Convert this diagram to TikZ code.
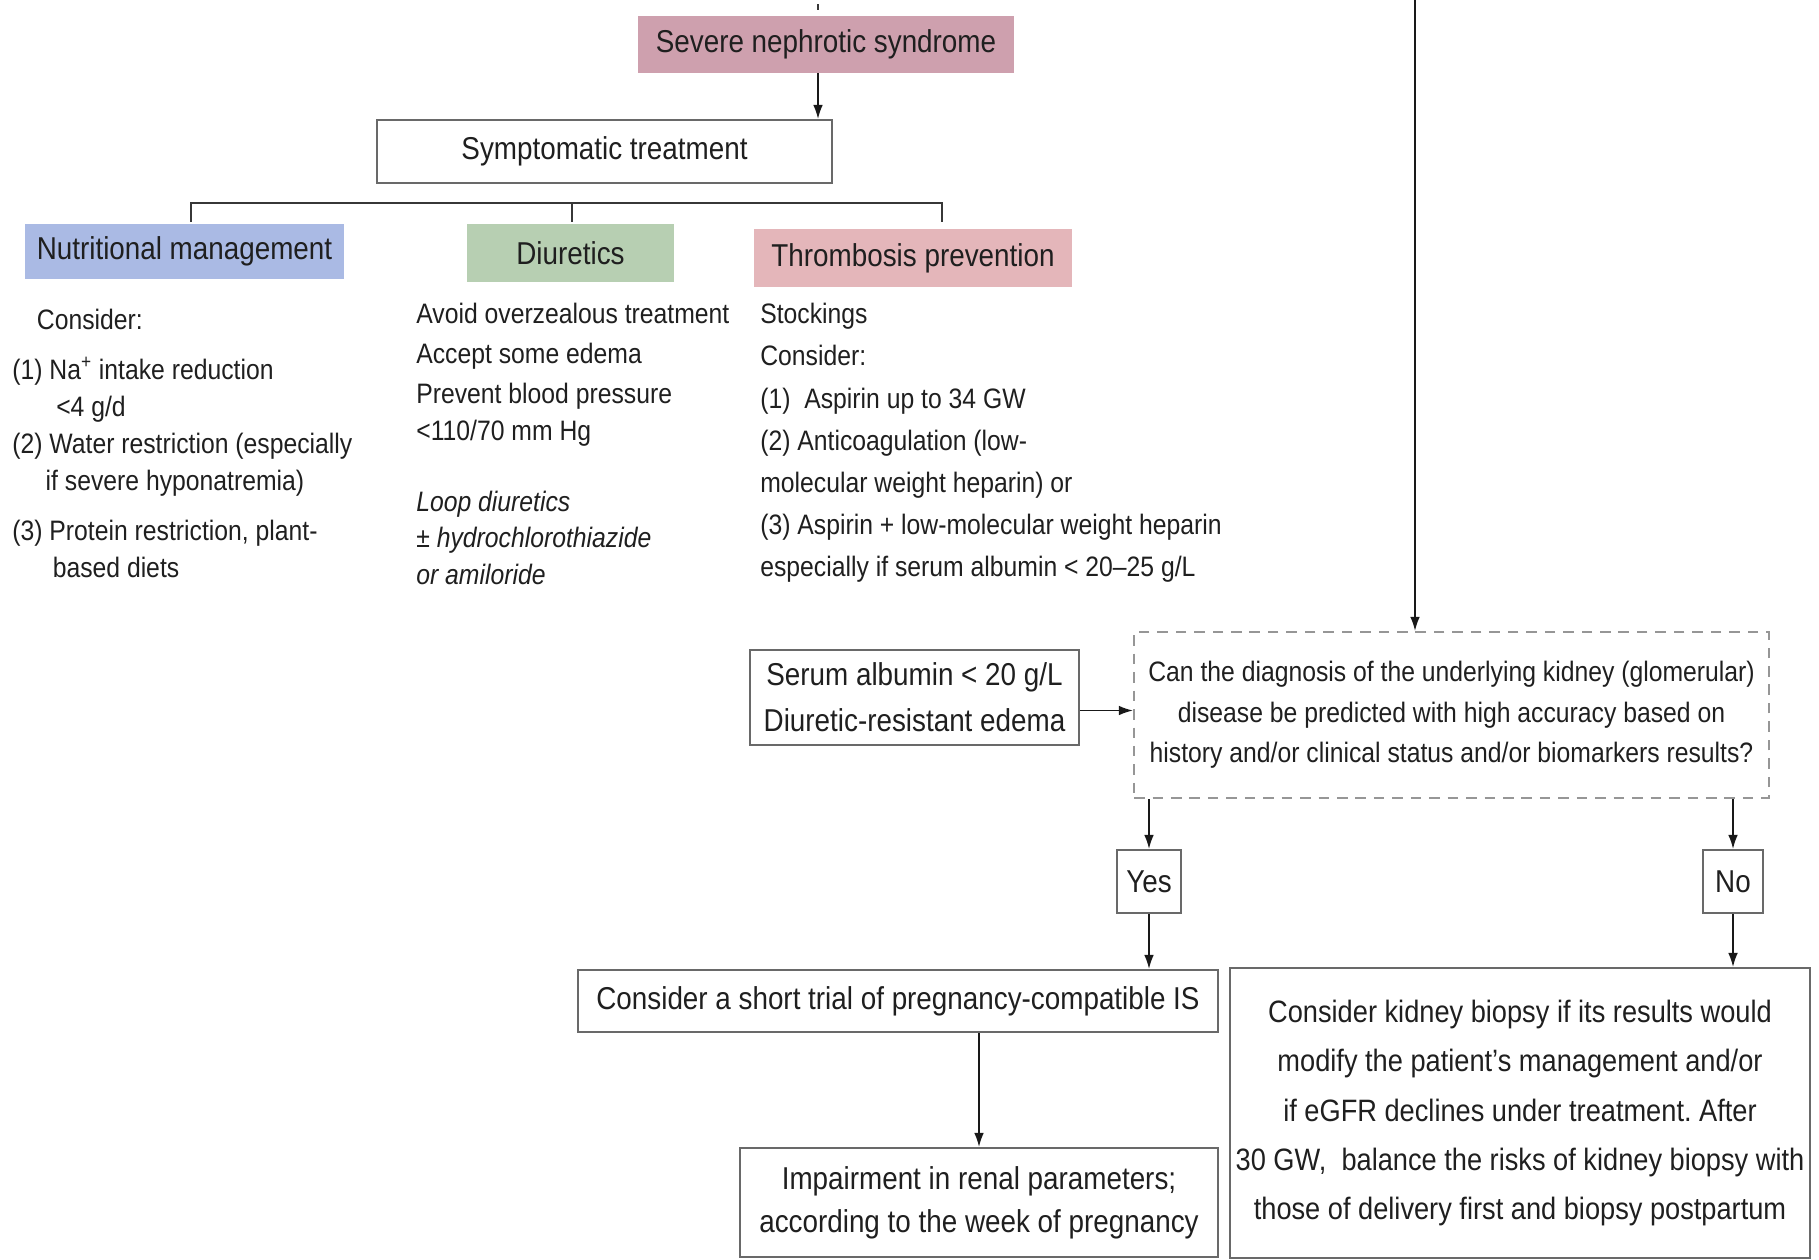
\documentclass[tikz,border=0pt]{standalone}
\usepackage{fontspec}
\setmainfont{Liberation Sans}[FakeStretch=0.88]
\usepackage{xcolor}
\usetikzlibrary{arrows.meta,calc}
\definecolor{nephmauve}{RGB}{206,160,174}
\definecolor{nutriblue}{RGB}{170,186,228}
\definecolor{diurgreen}{RGB}{183,207,178}
\definecolor{thrombpink}{RGB}{228,182,186}
\definecolor{boxgray}{RGB}{105,105,105}
\definecolor{dashgray}{RGB}{150,150,150}
\definecolor{linegray}{RGB}{55,55,55}
\frenchspacing

\begin{document}
\begin{tikzpicture}[x=0.02cm, y=-0.02cm, >={Latex[length=8pt,width=5.5pt]},
    box/.style={draw=boxgray, line width=1.2pt, inner sep=0pt, align=center,
        text=black!88, font=\fontsize{18}{26}\selectfont},
    head/.style={inner sep=0pt, text=black!88, font=\fontsize{18}{22}\selectfont},
    coltext/.style={anchor=north west, inner sep=0pt, align=left,
        text=black!88, font=\fontsize{16}{21}\selectfont},
    link/.style={->, draw=black!90, line width=0.9pt},
    bracket/.style={draw=linegray, line width=1.4pt}]
    \useasboundingbox (0,0) rectangle (1819,1259);

    % Cabecera
    \coordinate (stubtop) at (818,4);
    \coordinate (stubbot) at (818,10);
    \draw[linegray, line width=0.9pt] (stubtop) -- (stubbot);
    \node[head, fill=nephmauve, minimum width=7.52cm, minimum height=1.14cm] (severe) at (826,44.5) {Severe nephrotic syndrome};
    \node[box, minimum width=9.1cm, minimum height=1.26cm] (symp) at (604.5,151.5) {Symptomatic treatment};
    \draw[link] (severe.south -| stubtop) -- (symp.north -| stubtop);

    % Llave hacia las tres ramas
    \coordinate (brL) at (191,203);
    \coordinate (brM) at (572,203);
    \coordinate (brR) at (942,203);
    \draw[bracket] ($(brL)+(0,19)$) -- (brL) -- (brR) -- ($(brR)+(0,19)$);
    \draw[bracket] (brM) -- ($(brM)+(0,19)$);

    % Ramas
    \node[head, fill=nutriblue, minimum width=6.38cm, minimum height=1.1cm] (nutri) at (184.5,251.5) {Nutritional management};
    \node[head, fill=diurgreen, minimum width=4.14cm, minimum height=1.16cm] (diur) at (570.5,253) {Diuretics};
    \node[head, fill=thrombpink, minimum width=6.36cm, minimum height=1.16cm] (thromb) at (913,258) {Thrombosis prevention};

    \node[coltext] (nutritxt) at (12,309) {\hspace*{14pt}Consider:\\[7.5pt]
        (1) Na\textsuperscript{+} intake reduction\\
        \hspace*{25pt}<4 g/d\\
        (2) Water restriction (especially\\
        \hspace*{19pt}if severe hyponatremia)\\[7.5pt]
        (3) Protein restriction, plant-\\
        \hspace*{23pt}based diets};
    \node[coltext] (diurtxt) at (416,303) {Avoid overzealous treatment\\[1.8pt]
        Accept some edema\\[1.8pt]
        Prevent blood pressure\\
        <110/70 mm Hg\\[19pt]
        \textit{Loop diuretics}\\
        \textit{± hydrochlorothiazide}\\
        \textit{or amiloride}};
    \node[coltext, font=\fontsize{16}{24}\selectfont] (thromtxt) at (760,303) {Stockings\\
        Consider:\\
        (1)\ \ Aspirin up to 34 GW\\
        (2) Anticoagulation (low-\\
        molecular weight heparin) or\\
        (3) Aspirin + low-molecular weight heparin\\
        especially if serum albumin < 20--25 g/L};

    % Pregunta central
    \node[box, minimum width=6.58cm, minimum height=1.9cm] (serum) at (914.5,697.5) {Serum albumin < 20 g/L\\ Diuretic-resistant edema};
    \node[box, draw=dashgray, dash pattern=on 6pt off 4.5pt, line width=1.3pt, minimum width=12.7cm, minimum height=3.32cm,
        font=\fontsize{16}{23}\selectfont] (question) at (1451.5,715) {Can the diagnosis of the underlying kidney (glomerular)\\
        disease be predicted with high accuracy based on\\
        history and/or clinical status and/or biomarkers results?};
    \coordinate (fromtop) at (1415,0);
    \draw[link] (fromtop) -- (fromtop |- question.north);
    \draw[link] ([yshift=-0.26cm]serum.east) -- ([yshift=-0.26cm]serum.east -| question.west);

    % Si / No
    \node[box, minimum width=1.28cm, minimum height=1.26cm] (yes) at (1149,881.5) {Yes};
    \node[box, minimum width=1.2cm, minimum height=1.26cm] (no) at (1733,881.5) {No};
    \draw[link] (question.south -| yes) -- (yes.north);
    \draw[link] (question.south -| no) -- (no.north);

    \node[box, minimum width=12.8cm, minimum height=1.24cm] (consider) at (898,1001) {Consider a short trial of pregnancy-compatible IS};
    \node[box, minimum width=9.56cm, minimum height=2.18cm, font=\fontsize{18}{24.5}\selectfont] (impair) at (979,1202.5) {Impairment in renal parameters;\\ according to the week of pregnancy};
    \node[box, minimum width=11.6cm, minimum height=5.8cm, font=\fontsize{17.6}{28}\selectfont] (kidney) at (1520,1113) {Consider kidney biopsy if its results would\\
        modify the patient's management and/or\\
        if eGFR declines under treatment. After\\
        30 GW,\ \ balance the risks of kidney biopsy with\\
        those of delivery first and biopsy postpartum};
    \draw[link] (yes.south) -- (yes.south |- consider.north);
    \draw[link] (no.south) -- (no.south |- kidney.north);
    \draw[link] (consider.south -| impair.north) -- (impair.north);
\end{tikzpicture}
\end{document}
